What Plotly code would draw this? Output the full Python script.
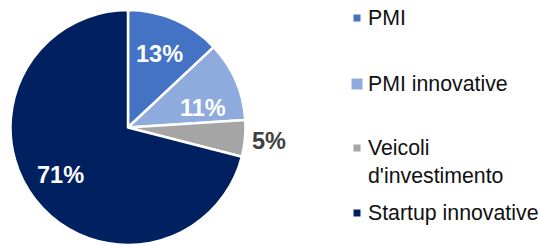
import math
import plotly.graph_objects as go

labels = ["PMI", "PMI innovative", "Veicoli d'investimento", "Startup innovative"]
legend_texts = ["PMI", "PMI innovative", "Veicoli<br>d'investimento", "Startup innovative"]
values = [13, 11, 5, 71]
colors = ["#4472C4", "#8FAADC", "#A5A5A5", "#002060"]

W, H = 539, 246
FONT = "Liberation Sans, Arial, Helvetica, sans-serif"

# pie geometry (pixels)
CX, CY, R = 128, 127.5, 116
RD = 117.5  # domain half-size (plotly trims the radius slightly)

fig = go.Figure()
fig.add_trace(go.Pie(
    labels=labels,
    values=values,
    sort=False,
    direction="clockwise",
    rotation=0,
    marker=dict(colors=colors, line=dict(color="white", width=2.5)),
    textinfo="none",
    showlegend=False,
    hoverinfo="label+percent",
    domain=dict(x=[(CX - RD) / W, (CX + RD) / W], y=[1 - (CY + RD) / H, 1 - (CY - RD) / H]),
))

# slice labels, placed along each slice's bisector computed from the values
label_r = [0.69, 0.67, 1.22, 0.71]
label_dang = [0, 9, 0, 2.5]
label_col = ["white", "white", "#404040", "white"]
annotations = []
total = sum(values)
cum = 0
for v, rf, da, lc in zip(values, label_r, label_dang, label_col):
    mid = (cum + v / 2) / total * 360 + da
    cum += v
    a = math.radians(mid)
    px = CX + rf * R * math.sin(a)
    py = CY - rf * R * math.cos(a)
    annotations.append(dict(xref="paper", yref="paper", x=px / W, y=1 - py / H,
                            xanchor="center", yanchor="middle", showarrow=False,
                            text=f"<b>{v}%</b>",
                            font=dict(family=FONT, size=23.5, color=lc)))

# custom legend (irregular spacing as in the reference)
legend_y = [18, 84, 161.5, 213]
marker_size = [7, 11, 7, 7]
shapes = []
for txt, col, yc, ms in zip(legend_texts, colors, legend_y, marker_size):
    my = yc if "<br>" not in txt else yc - 13.5
    cx = 357
    shapes.append(dict(type="rect", xref="paper", yref="paper",
                       x0=(cx - ms / 2) / W, x1=(cx + ms / 2) / W,
                       y0=1 - (my + ms / 2) / H, y1=1 - (my - ms / 2) / H,
                       fillcolor=col, line=dict(width=0)))
    annotations.append(dict(xref="paper", yref="paper", x=366 / W, y=1 - yc / H,
                            xanchor="left", yanchor="middle", align="left",
                            text=txt, showarrow=False,
                            font=dict(family=FONT, size=21.3, color="#111111")))

fig.update_layout(
    width=W, height=H,
    margin=dict(l=0, r=0, t=0, b=0),
    paper_bgcolor="white", plot_bgcolor="white",
    shapes=shapes, annotations=annotations,
)

fig.write_html("out.html", config={"displayModeBar": False},
               post_script="document.body.style.margin='0';document.body.style.overflow='hidden';")
